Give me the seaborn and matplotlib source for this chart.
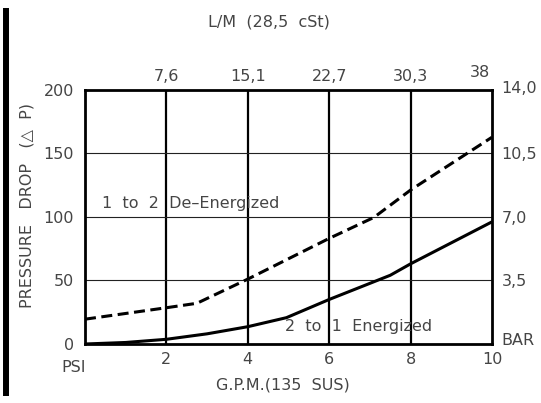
import matplotlib
matplotlib.use("Agg")
import matplotlib.pyplot as plt
import matplotlib.lines as mlines
import matplotlib.transforms as mtransforms
import pandas as pd
import seaborn as sns

# flow in G.P.M. and pressure drop in PSI
gpm_deenergized = [0, 2, 2.75, 4, 6, 7.1, 8, 10]
psi_deenergized = [19.5, 28.5, 32, 51, 83, 99.5, 121, 162.5]

gpm_energized = [0, 1, 2, 3, 4, 4.95, 6, 7.5, 8, 10]
psi_energized = [0, 1.2, 3.7, 8, 13.6, 20.7, 35, 54, 63, 96]

gpm_ticks = [2, 4, 6, 8, 10]
lpm_labels = ["7,6", "15,1", "22,7", "30,3", "38"]
psi_ticks = [0, 50, 100, 150, 200]
bar_labels = ["BAR", "3,5", "7,0", "10,5", "14,0"]

sns.set_style("white")
plt.rcParams["font.family"] = ["DejaVu Sans"]
text_color = "#454545"
fs = 11.5

df = pd.concat([
    pd.DataFrame({"gpm": gpm_deenergized, "psi": psi_deenergized, "mode": "de"}),
    pd.DataFrame({"gpm": gpm_energized, "psi": psi_energized, "mode": "en"}),
])

fig = plt.figure(figsize=(5.41, 4.03), dpi=100)
ax = fig.add_axes([0.1571, 0.1464, 0.7523, 0.6315])

for v in gpm_ticks[:-1]:
    ax.axvline(v, color="black", lw=1.6, zorder=1)
for h in psi_ticks[1:-1]:
    ax.axhline(h, color="#222222", lw=0.8, zorder=1)

sns.lineplot(data=df[df["mode"] == "de"], x="gpm", y="psi", ax=ax,
             color="black", lw=2.2, linestyle=(0, (3.6, 1.8)), zorder=3)
sns.lineplot(data=df[df["mode"] == "en"], x="gpm", y="psi", ax=ax,
             color="black", lw=2.2, zorder=3)

ax.set_xlim(0, 10)
ax.set_ylim(0, 200)
for s in ax.spines.values():
    s.set_linewidth(2)
    s.set_color("black")

ax.set_xticks(gpm_ticks)
ax.set_xticklabels([str(t) for t in gpm_ticks])
ax.set_yticks(psi_ticks)
ax.set_yticklabels([str(t) for t in psi_ticks])
ax.tick_params(axis="x", length=0, labelsize=fs, labelcolor=text_color, pad=6)
ax.tick_params(axis="y", length=0, labelsize=fs, labelcolor=text_color, pad=8)
ax.set_xlabel("")
ax.set_ylabel("")

top = ax.secondary_xaxis("top")
top.set_xticks(gpm_ticks)
top.set_xticklabels(lpm_labels)
top.tick_params(length=0, labelsize=fs, labelcolor=text_color, pad=4)
top.spines["top"].set_visible(False)
last = top.get_xticklabels()[-1]
last.set_transform(last.get_transform() +
                   mtransforms.ScaledTranslation(-12 / 100, 4 / 100, fig.dpi_scale_trans))

right = ax.secondary_yaxis("right")
right.set_yticks(psi_ticks)
right.set_yticklabels(bar_labels)
right.tick_params(length=0, labelsize=fs, labelcolor=text_color, pad=7)
right.spines["right"].set_visible(False)
rlabels = right.get_yticklabels()
rlabels[0].set_transform(rlabels[0].get_transform() +
                         mtransforms.ScaledTranslation(0, 5 / 100, fig.dpi_scale_trans))
rlabels[-1].set_transform(rlabels[-1].get_transform() +
                          mtransforms.ScaledTranslation(0, 3 / 100, fig.dpi_scale_trans))

ax.text(0.02, -12.5, "PSI", ha="right", va="top", fontsize=fs, color=text_color)
ax.text(0.41, 110.5, "1  to  2  De\u2013Energized", fontsize=fs, color=text_color,
        va="center", zorder=4)
ax.text(4.92, 13.5, "2  to  1  Energized", fontsize=fs, color=text_color,
        va="center", zorder=4)

fig.text(0.497, 0.945, "L/M  (28,5  cSt)", ha="center", va="center",
         fontsize=fs, color=text_color)
fig.text(0.522, 0.045, "G.P.M.(135  SUS)", ha="center", va="center",
         fontsize=fs, color=text_color)
fig.text(0.05, 0.49, "PRESSURE   DROP   (\u25b3  P)", ha="center", va="center",
         rotation=90, fontsize=fs, color=text_color)

# thick black bar at the left edge
fig.add_artist(mlines.Line2D([0.0117, 0.0117], [0.017, 0.98], color="black",
                             lw=4.3, solid_capstyle="butt",
                             transform=fig.transFigure))

fig.savefig("out.png", dpi=100)
